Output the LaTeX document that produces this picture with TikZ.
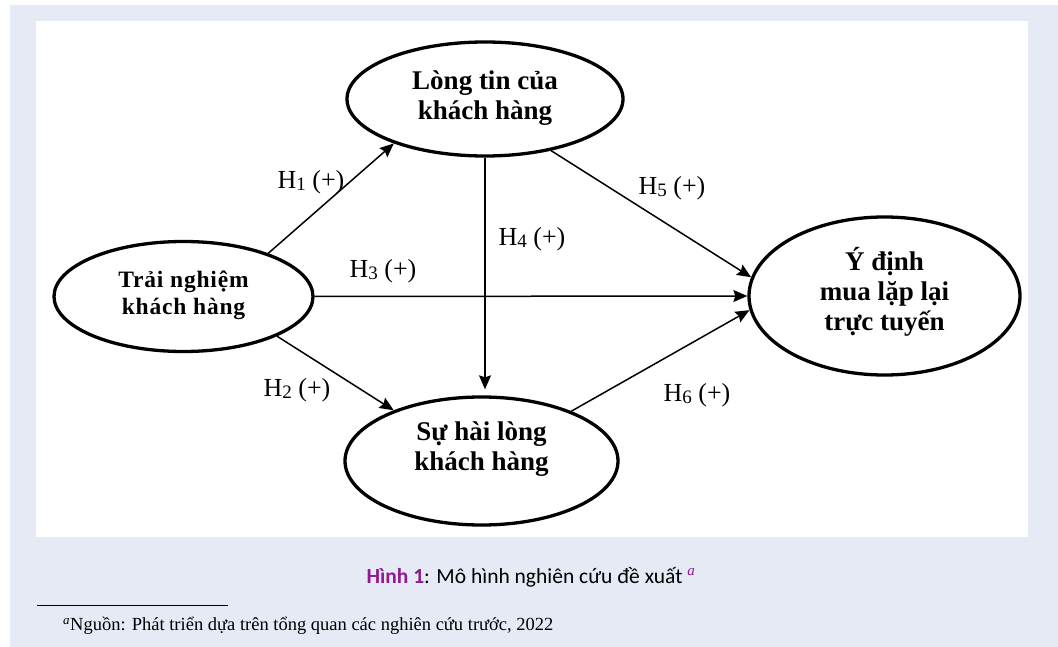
\documentclass[tikz,border=0pt]{standalone}
\usepackage{fontspec}
\setmainfont{Liberation Serif}
\newfontfamily\capfont{Carlito}
\newfontfamily\lspfont[LetterSpace=3.5]{Liberation Serif}
\usetikzlibrary{shapes.geometric,arrows.meta}
\definecolor{bgl}{HTML}{E6EAF5}
\definecolor{hpurple}{HTML}{8E1B93}
\tikzset{
  var/.style={ellipse, draw, line width=3.3pt, inner sep=0pt,
    font=\fontsize{27}{30}\selectfont\bfseries},
  arr/.style={line width=1.5pt, -{Stealth[length=14pt,width=12pt,inset=2pt]}},
  hlab/.style={font=\fontsize{26}{28}\selectfont, inner sep=0pt}
}
\newcommand{\hyp}[1]{H\raisebox{-2.5pt}{\fontsize{19}{19}\selectfont #1} (+)}
\newcommand{\upby}[2]{\raisebox{0pt}[\height][\dimexpr\depth+#1\relax]{\begin{tabular}{@{}c@{}}#2\end{tabular}}}
\begin{document}
\begin{tikzpicture}[x=1pt,y=-1pt]
\useasboundingbox (0,0) rectangle (1058,647);
\fill[white] (0,0) rectangle (1058,647);
\fill[bgl] (10,5) rectangle (1058,647);
\fill[white] (36,21) rectangle (1028,537);

\node[var, minimum width=276pt, minimum height=114pt] (trust) at (485,99) {\upby{0pt}{Lòng tin của\\khách hàng}};
\node[var, minimum width=259pt, minimum height=110pt, font=\lspfont\fontsize{23.5}{26.5}\selectfont\bfseries] (exp) at (183.5,296.5) {\upby{2pt}{Trải nghiệm\\khách hàng}};
\node[var, minimum width=271pt, minimum height=158pt] (intent) at (884.5,296) {\upby{6pt}{Ý định\\mua lặp lại\\trực tuyến}};
\node[var, minimum width=273pt, minimum height=128pt] (sat) at (481.5,461) {\upby{24pt}{Sự hài lòng\\khách hàng}};

\draw[arr] (exp.27.8) -- (trust.206.6);
\draw[arr] (exp.337) -- (sat.150);
\draw[arr] (exp.east) -- (intent.west);
\draw[arr, shorten >=6pt] (trust.south) -- (trust.south |- sat.north);
\draw[arr] (trust.-38.7) -- (intent.172);
\draw[arr] (sat.29) -- (intent.186.7);

\node[hlab] (l1) at (311,182) {\hyp{1}};
\node[hlab] (l2) at (297,390) {\hyp{2}};
\node[hlab] (l3) at (383,271) {\hyp{3}};
\node[hlab] (l4) at (532,239) {\hyp{4}};
\node[hlab] (l5) at (672,188) {\hyp{5}};
\node[hlab] (l6) at (697,395) {\hyp{6}};

\node[font=\capfont\fontsize{21.5}{24}\selectfont, inner sep=0pt] (cap) at (531,577)
  {{\color{hpurple}\bfseries Hình 1}: Mô hình nghiên cứu đề xuất \textsuperscript{\color{hpurple}\rmfamily\itshape a}};
\draw[line width=1pt] (37,605) -- (228,605);
\node[anchor=west, font=\fontsize{18.5}{20}\selectfont, inner sep=0pt] (fn) at (63,626)
  {\textsuperscript{\itshape a}Nguồn: Phát triển dựa trên tổng quan các nghiên cứu trước, 2022};
\end{tikzpicture}
\end{document}
